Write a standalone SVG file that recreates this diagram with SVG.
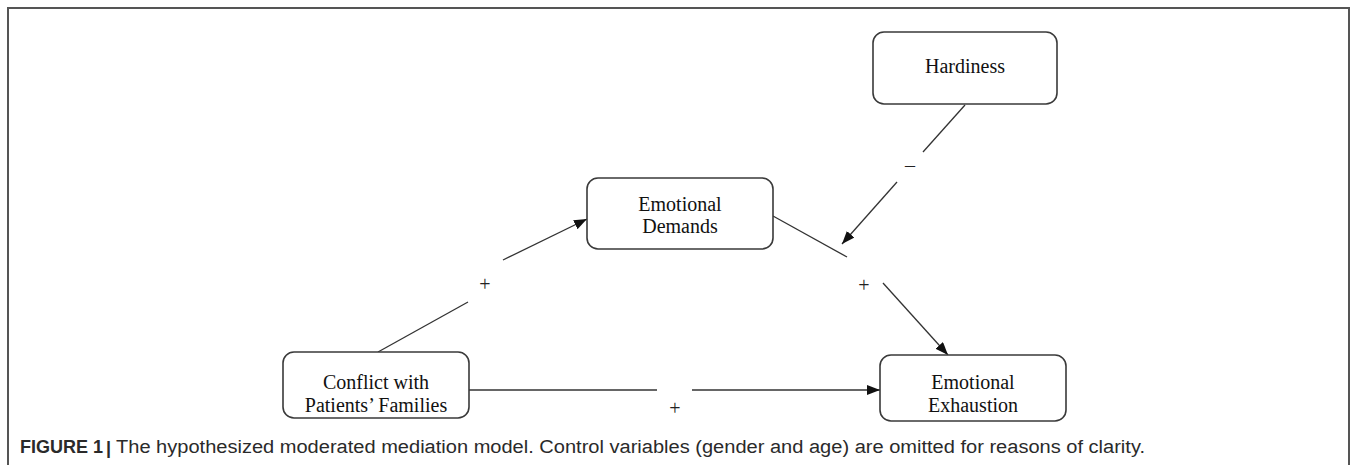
<svg xmlns="http://www.w3.org/2000/svg" width="1357" height="465" viewBox="0 0 1357 465">
<defs>
<marker id="ah" viewBox="0 0 13 10" refX="13" refY="5" markerWidth="13" markerHeight="10" markerUnits="userSpaceOnUse" orient="auto">
<path d="M0,0 L13,5 L0,10 z" fill="#111"/>
</marker>
<style>
.box{fill:#fff;stroke:#3a3a3a;stroke-width:1.6}
.t{font-family:"Liberation Serif","Times New Roman",serif;font-size:20px;fill:#111;text-anchor:middle}
.c{stroke:#333;stroke-width:1.3;fill:none}
.lbl{font-family:"Liberation Serif","Times New Roman",serif;font-size:20px;fill:#222;text-anchor:middle}
.cap{font-family:"Liberation Sans",Arial,sans-serif;font-size:18px;fill:#2a2a2a}
</style>
</defs>
<rect x="0" y="0" width="1357" height="465" fill="#fff"/>
<path d="M8,465 L8,8 L1349,8 L1349,465" fill="none" stroke="#555" stroke-width="2"/>

<g id="connectors">
<line class="c" x1="378" y1="352" x2="468" y2="302"/>
<line class="c" x1="503" y1="260" x2="587" y2="219" marker-end="url(#ah)"/>
<line class="c" x1="773" y1="216" x2="847" y2="257"/>
<line class="c" x1="883" y1="283" x2="948" y2="355" marker-end="url(#ah)"/>
<line class="c" x1="965" y1="105" x2="923" y2="152"/>
<line class="c" x1="897" y1="182" x2="842" y2="244" marker-end="url(#ah)"/>
<line class="c" x1="469" y1="390" x2="657" y2="390"/>
<line class="c" x1="692" y1="390" x2="880" y2="390" marker-end="url(#ah)"/>
<text class="lbl" x="485" y="291">+</text>
<text class="lbl" x="864" y="292">+</text>
<text class="lbl" x="675" y="415">+</text>
<text class="lbl" x="910" y="172">–</text>
</g>

<g id="hardiness">
<rect class="box" x="873" y="32" width="184" height="72" rx="11"/>
<text class="t" x="965" y="73">Hardiness</text>
</g>
<g id="emotional-demands">
<rect class="box" x="587" y="178" width="186" height="71" rx="11"/>
<text class="t" x="680" y="211">Emotional</text>
<text class="t" x="680" y="233">Demands</text>
</g>
<g id="conflict">
<rect class="box" x="283" y="352" width="186" height="66" rx="11"/>
<text class="t" x="376" y="389">Conflict with</text>
<text class="t" x="376" y="412">Patients’ Families</text>
</g>
<g id="emotional-exhaustion">
<rect class="box" x="880" y="355" width="186" height="66" rx="11"/>
<text class="t" x="973" y="389">Emotional</text>
<text class="t" x="973" y="412">Exhaustion</text>
</g>

<g id="caption">
<text class="cap" x="20" y="453" font-size="17" font-weight="bold">FIGURE 1</text>
<text class="cap" x="106" y="454" font-size="19" font-weight="bold">|</text>
<text class="cap" x="116" y="453" textLength="1029" lengthAdjust="spacingAndGlyphs">The hypothesized moderated mediation model. Control variables (gender and age) are omitted for reasons of clarity.</text>
</g>
</svg>
